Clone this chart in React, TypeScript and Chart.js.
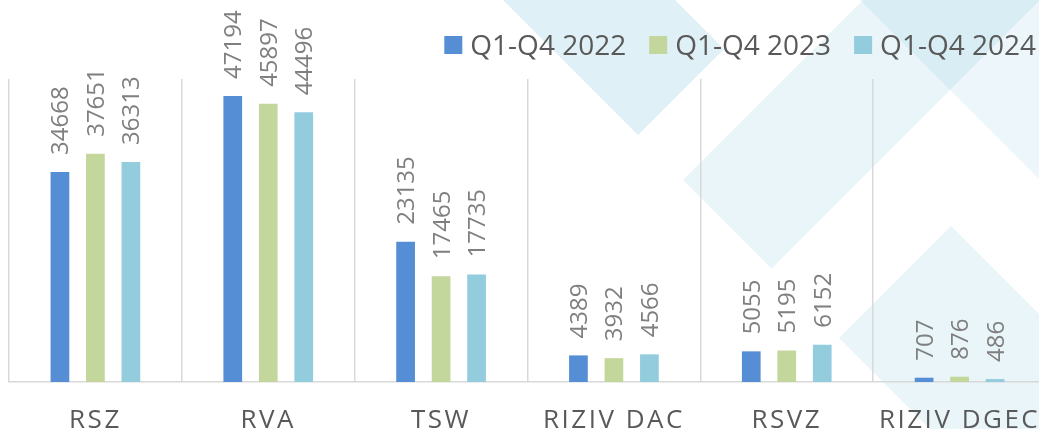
import { useEffect, useRef } from 'react';
import { Chart, registerables } from 'chart.js';

Chart.register(...registerables);

// ---- data ----
const categories = ['RSZ', 'RVA', 'TSW', 'RIZIV DAC', 'RSVZ', 'RIZIV DGEC'];
const seriesNames = ['Q1-Q4 2022', 'Q1-Q4 2023', 'Q1-Q4 2024'];
const values2022 = [34668, 47194, 23135, 4389, 5055, 707];
const values2023 = [37651, 45897, 17465, 3932, 5195, 876];
const values2024 = [36313, 44496, 17735, 4566, 6152, 486];
const yMin = 0;
const yMax = 50000;

// ---- style ----
const seriesColors = ['#558ED5', '#C3D69B', '#93CDDD'];
const FONT = '"Open Sans", "Noto Sans", sans-serif';
const CANVAS_W = 1060;
const CANVAS_H = 440;

// decorative background shapes (canvas px)
const decorShapes: { pts: number[][]; color: string }[] = [
  { pts: [[638, 135], [724, 49], [575, -100], [403, -100]], color: 'rgba(110,185,215,0.22)' },
  { pts: [[683, 180], [771.5, 268.5], [1140, -100], [963, -100]], color: 'rgba(110,185,215,0.15)' },
  { pts: [[800, -60], [1200, 340], [1300, 240], [900, -160]], color: 'rgba(110,185,215,0.12)' },
  { pts: [[951, 226], [839, 338], [1101, 600], [1325, 600]], color: 'rgba(110,185,215,0.15)' },
];

const decorPlugin = {
  id: 'decor',
  beforeDraw(chart: any) {
    const ctx = chart.ctx as CanvasRenderingContext2D;
    ctx.save();
    ctx.fillStyle = '#ffffff';
    ctx.fillRect(0, 0, chart.width, chart.height);
    decorShapes.forEach((s) => {
      ctx.beginPath();
      s.pts.forEach(([x, y], i) => (i === 0 ? ctx.moveTo(x, y) : ctx.lineTo(x, y)));
      ctx.closePath();
      ctx.fillStyle = s.color;
      ctx.fill();
    });
    ctx.restore();
    // letter spacing for category labels (drawn before datasets)
    (ctx as any).letterSpacing = '2.5px';
  },
  beforeDatasetsDraw(chart: any) {
    (chart.ctx as any).letterSpacing = '0px';
  },
};

const valueLabelPlugin = {
  id: 'valueLabels',
  afterDatasetsDraw(chart: any) {
    const ctx = chart.ctx as CanvasRenderingContext2D;
    const fs = 24;
    chart.data.datasets.forEach((ds: any, i: number) => {
      const meta = chart.getDatasetMeta(i);
      meta.data.forEach((bar: any, j: number) => {
        ctx.save();
        ctx.translate(bar.x + 0.357 * fs, bar.y - 17);
        ctx.rotate(-Math.PI / 2);
        ctx.font = `${fs}px ${FONT}`;
        ctx.fillStyle = '#7F7F7F';
        ctx.textAlign = 'left';
        ctx.textBaseline = 'alphabetic';
        ctx.fillText(String(ds.data[j]), 0, 0);
        ctx.restore();
      });
    });
  },
};

const legendPlugin = {
  id: 'customLegend',
  afterDraw(chart: any) {
    const ctx = chart.ctx as CanvasRenderingContext2D;
    const fs = 28;
    const box = 18;
    const gap = 8;
    const itemGap = 23;
    const rightEnd = 1036;
    const boxTop = 36;
    const baseline = 55;
    ctx.save();
    ctx.font = `${fs}px ${FONT}`;
    const widths = chart.data.datasets.map((d: any) => ctx.measureText(d.label).width);
    let total = 0;
    widths.forEach((w: number, i: number) => {
      total += box + gap + w + (i < widths.length - 1 ? itemGap : 0);
    });
    let x = rightEnd - total;
    chart.data.datasets.forEach((d: any, i: number) => {
      ctx.fillStyle = d.backgroundColor;
      ctx.fillRect(x, boxTop, box, box);
      ctx.fillStyle = '#595959';
      ctx.textAlign = 'left';
      ctx.textBaseline = 'alphabetic';
      ctx.fillText(d.label, x + box + gap, baseline);
      x += box + gap + widths[i] + itemGap;
    });
    ctx.restore();
  },
};

export default function App() {
  const canvasRef = useRef<HTMLCanvasElement | null>(null);

  useEffect(() => {
    if (!canvasRef.current) return;
    const seriesValues = [values2022, values2023, values2024];
    const chart = new Chart(canvasRef.current, {
      type: 'bar',
      data: {
        labels: categories,
        datasets: seriesNames.map((name, i) => ({
          label: name,
          data: seriesValues[i],
          backgroundColor: seriesColors[i],
          borderWidth: 0,
          categoryPercentage: 0.616,
          barPercentage: 0.527,
        })),
      },
      options: {
        responsive: false,
        animation: false,
        devicePixelRatio: 1,
        layout: { padding: { left: 9, right: 14, top: 79, bottom: 0 } },
        plugins: {
          legend: { display: false },
          tooltip: { enabled: false },
        },
        scales: {
          x: {
            grid: {
              color: '#D9D9D9',
              lineWidth: 1.5,
              drawTicks: false,
              offset: true,
            },
            border: { color: '#D9D9D9', width: 1.5 },
            ticks: {
              color: '#595959',
              font: { family: FONT, size: 26 },
              padding: 23,
              autoSkip: false,
              maxRotation: 0,
              minRotation: 0,
            },
            afterFit: (scale: any) => {
              scale.height = 58;
            },
          },
          y: {
            display: false,
            min: yMin,
            max: yMax,
          },
        },
      },
      plugins: [decorPlugin, valueLabelPlugin, legendPlugin],
    });
    return () => chart.destroy();
  }, []);

  return (
    <div
      style={{
        position: 'fixed',
        left: 0,
        top: 0,
        width: 1039,
        height: 429,
        overflow: 'hidden',
        background: '#ffffff',
      }}
    >
      <canvas
        ref={canvasRef}
        width={CANVAS_W}
        height={CANVAS_H}
        style={{ display: 'block', width: CANVAS_W, height: CANVAS_H }}
      />
    </div>
  );
}
